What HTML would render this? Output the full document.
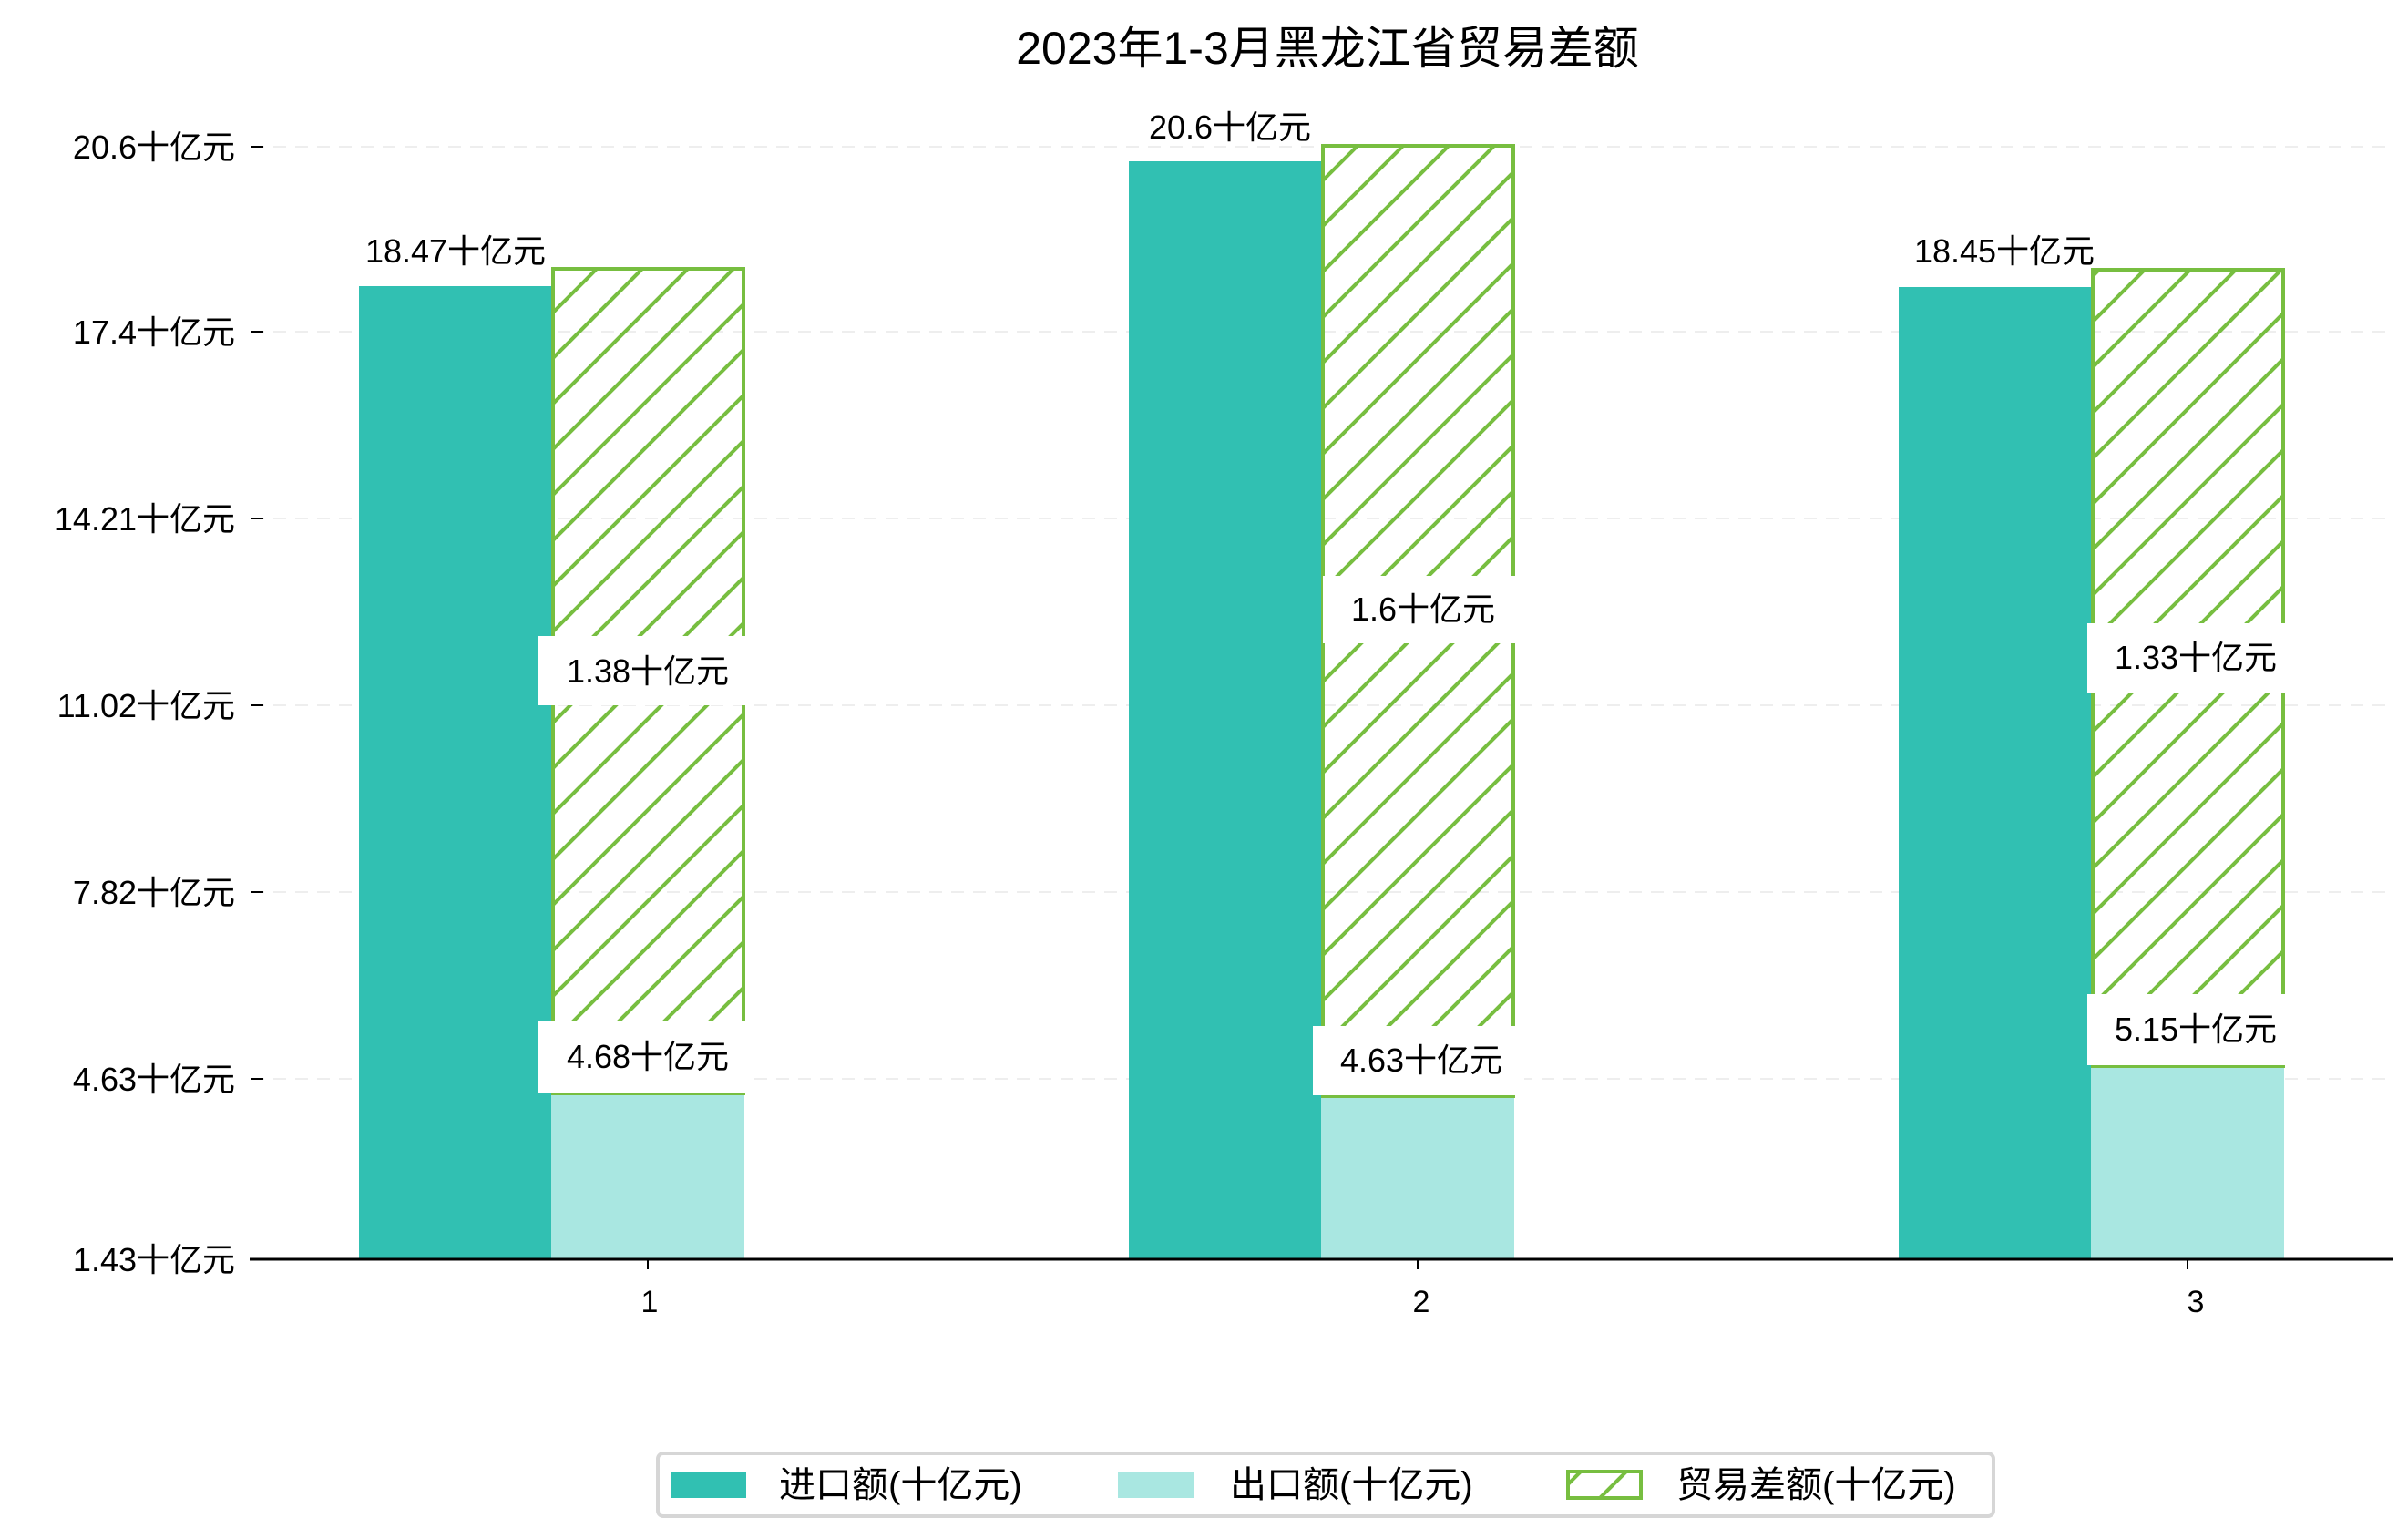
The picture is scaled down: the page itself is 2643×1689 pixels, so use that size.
<!DOCTYPE html>
<html><head><meta charset="utf-8"><style>
html,body{margin:0;padding:0;background:#fff}
svg{display:block}
text{font-family:"Liberation Sans","Noto Sans CJK SC",sans-serif;fill:#000}
</style></head><body>
<svg width="2643" height="1689" viewBox="0 0 2643 1689" xmlns="http://www.w3.org/2000/svg">
<defs>
<pattern id="h" patternUnits="userSpaceOnUse" width="50" height="50">
<path d="M-10,10 L10,-10 M0,50 L50,0 M40,60 L60,40" stroke="#77BE40" stroke-width="4"/>
</pattern>
</defs>
<text x="1457" y="70" font-size="50" text-anchor="middle">2023年1-3月黑龙江省贸易差额</text>
<g stroke="#eeeeee" stroke-width="2" stroke-dasharray="14,10">
<line x1="276" y1="161" x2="2626" y2="161"/><line x1="276" y1="364" x2="2626" y2="364"/>
<line x1="276" y1="569" x2="2626" y2="569"/><line x1="276" y1="774" x2="2626" y2="774"/>
<line x1="276" y1="979" x2="2626" y2="979"/><line x1="276" y1="1184" x2="2626" y2="1184"/>
</g>
<g stroke="#000" stroke-width="2">
<line x1="275" y1="161" x2="289" y2="161"/><line x1="275" y1="364" x2="289" y2="364"/>
<line x1="275" y1="569" x2="289" y2="569"/><line x1="275" y1="774" x2="289" y2="774"/>
<line x1="275" y1="979" x2="289" y2="979"/><line x1="275" y1="1184" x2="289" y2="1184"/>
</g>
<g font-size="36" text-anchor="end">
<text x="258" y="174">20.6十亿元</text><text x="258" y="377">17.4十亿元</text>
<text x="258" y="582">14.21十亿元</text><text x="258" y="787">11.02十亿元</text>
<text x="258" y="992">7.82十亿元</text><text x="258" y="1197">4.63十亿元</text>
<text x="258" y="1395">1.43十亿元</text>
</g>
<rect x="394" y="314" width="211" height="1068" fill="#31C0B2"/>
<rect x="605" y="1200" width="212" height="182" fill="#A9E7E1"/>
<rect x="607" y="295" width="209" height="905" fill="url(#h)" stroke="#77BE40" stroke-width="4"/>
<rect x="1239" y="177" width="211" height="1205" fill="#31C0B2"/>
<rect x="1450" y="1203" width="212" height="179" fill="#A9E7E1"/>
<rect x="1452" y="160" width="209" height="1043" fill="url(#h)" stroke="#77BE40" stroke-width="4"/>
<rect x="2084" y="315" width="211" height="1067" fill="#31C0B2"/>
<rect x="2295" y="1170" width="212" height="212" fill="#A9E7E1"/>
<rect x="2297" y="296" width="209" height="874" fill="url(#h)" stroke="#77BE40" stroke-width="4"/>
<g font-size="36" text-anchor="middle">
<text x="500" y="288">18.47十亿元</text>
<text x="1350" y="152">20.6十亿元</text>
<text x="2200" y="288">18.45十亿元</text>
<rect x="591" y="698" width="234" height="76" fill="#fff"/><text x="711" y="749">1.38十亿元</text>
<rect x="591" y="1121" width="234" height="78" fill="#fff"/><text x="711" y="1172">4.68十亿元</text>
<rect x="1452" y="632" width="222" height="74" fill="#fff"/><text x="1562" y="681">1.6十亿元</text>
<rect x="1441" y="1126" width="232" height="76" fill="#fff"/><text x="1560" y="1176">4.63十亿元</text>
<rect x="2291" y="684" width="232" height="76" fill="#fff"/><text x="2410" y="734">1.33十亿元</text>
<rect x="2291" y="1091" width="232" height="78" fill="#fff"/><text x="2410" y="1142">5.15十亿元</text>
</g>
<line x1="274" y1="1382" x2="2626" y2="1382" stroke="#000" stroke-width="3"/>
<g stroke="#000" stroke-width="2">
<line x1="711" y1="1382" x2="711" y2="1393"/><line x1="1556" y1="1382" x2="1556" y2="1393"/><line x1="2401" y1="1382" x2="2401" y2="1393"/>
</g>
<g font-size="34" text-anchor="middle">
<text x="713" y="1440">1</text><text x="1560" y="1440">2</text><text x="2410" y="1440">3</text>
</g>
<rect x="722" y="1595" width="1466" height="69" rx="6" fill="#fff" stroke="#d6d6d6" stroke-width="4"/>
<rect x="736" y="1615" width="83" height="29" fill="#31C0B2"/>
<text x="855" y="1643" font-size="40">进口额(十亿元)</text>
<rect x="1227" y="1615" width="84" height="29" fill="#A9E7E1"/>
<text x="1350" y="1643" font-size="40">出口额(十亿元)</text>
<rect x="1721" y="1615" width="80" height="29" fill="url(#h)" stroke="#77BE40" stroke-width="4"/>
<text x="1840" y="1643" font-size="40">贸易差额(十亿元)</text>
</svg>
</body></html>
